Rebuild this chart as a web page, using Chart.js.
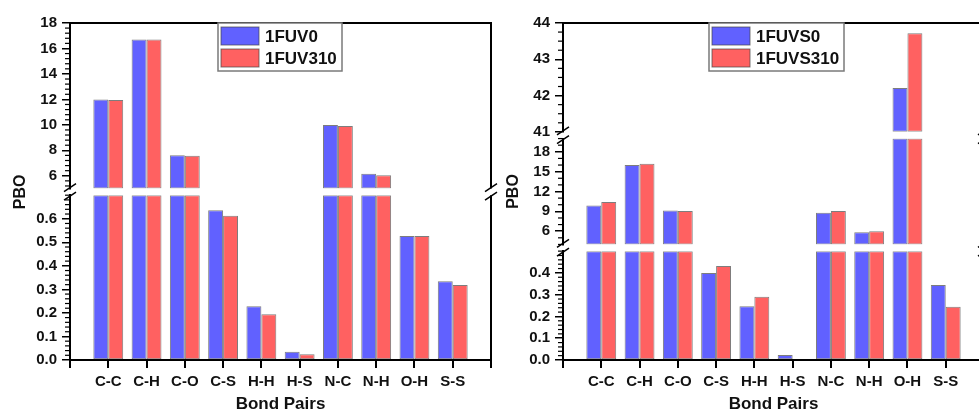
<!DOCTYPE html>
<html>
<head>
<meta charset="utf-8">
<script src="https://cdn.jsdelivr.net/npm/chart.js@4.4.1/dist/chart.umd.min.js"></script>
<style>
  html, body { margin: 0; padding: 0; background: #fff; overflow: hidden; width: 979px; height: 415px; }
  canvas { position: absolute; top: 0; }
  #left { left: 0; }
  #right { left: 493px; }
</style>
</head>
<body>
<canvas id="left" width="500" height="415"></canvas>
<canvas id="right" width="500" height="415"></canvas>
<script>
// --- data ---
const categories = ['C-C', 'C-H', 'C-O', 'C-S', 'H-H', 'H-S', 'N-C', 'N-H', 'O-H', 'S-S'];
const fuv0     = [12.0, 16.7, 7.62, 0.636, 0.228, 0.035, 9.98, 6.15, 0.527, 0.335];
const fuv310   = [11.95, 16.7, 7.57, 0.613, 0.194, 0.024, 9.9, 6.05, 0.527, 0.319];
const fuvs0    = [9.9, 16.0, 9.14, 0.400, 0.247, 0.023, 8.8, 5.85, 42.21, 0.345];
const fuvs310  = [10.4, 16.2, 9.04, 0.432, 0.290, 0, 9.04, 6.0, 43.72, 0.244];

// tick labels per axis section
const leftTicksUpper = [6, 8, 10, 12, 14, 16, 18];
const leftTicksLower = [0, 0.1, 0.2, 0.3, 0.4, 0.5, 0.6];
const rightTicksTop = [41, 42, 43, 44];
const rightTicksMid = [6, 9, 12, 15, 18];
const rightTicksLow = [0, 0.1, 0.2, 0.3, 0.4];

const BLUE = '#6161FF';
const RED = '#FF6161';
const FONT = '"Liberation Sans", Arial, sans-serif';
Chart.defaults.font.family = FONT;

// broken y axis, listed top to bottom
const leftSections = [
  { id: 'yU', min: 5, max: 18, ticks: leftTicksUpper, minor: 0.4, digits: 0, weight: 165.7 },
  { id: 'g1', gap: true, weight: 6.7, title: true },
  { id: 'yL', min: 0, max: 0.7, ticks: leftTicksLower, minor: 0.02, digits: 1, weight: 165 }
];
const rightSections = [
  { id: 'yT', min: 41, max: 44, ticks: rightTicksTop, minor: 0.25, digits: 0, weight: 109 },
  { id: 'g1', gap: true, weight: 6.7 },
  { id: 'yM', min: 4, max: 20, ticks: rightTicksMid, minor: 1, digits: 0, weight: 106, title: true },
  { id: 'g2', gap: true, weight: 6.7 },
  { id: 'yB', min: 0, max: 0.5, ticks: rightTicksLow, minor: 0.02, digits: 1, weight: 109 }
];

const titleFont = { family: FONT, size: 16, weight: 'bold' };

function buildScales(sections) {
  const scales = {
    x: {
      type: 'category',
      offset: false,
      grid: { display: true, drawOnChartArea: false, drawTicks: true, tickLength: 8, offset: false, color: '#000', lineWidth: 2 },
      border: { display: true, color: '#000', width: 2 },
      ticks: { autoSkip: false, maxRotation: 0, padding: 5, color: '#111', font: { family: FONT, size: 15, weight: 'bold' } },
      title: { display: true, text: 'Bond Pairs', color: '#111', font: { family: FONT, size: 17, weight: 'bold' }, padding: 0 },
      afterFit: s => { s.height = 55; }
    }
  };
  sections.forEach((sec, i) => {
    const base = {
      type: 'linear', position: 'left', stack: 'pbo', stackWeight: sec.weight,
      weight: sections.length - i, stacked: false,
      afterFit: s => { s.width = 70; },
      title: { display: !!sec.title, text: 'PBO', color: '#111', font: titleFont, padding: { top: 11, bottom: 0 } }
    };
    if (sec.gap) {
      scales[sec.id] = Object.assign(base, {
        min: 0, max: 1,
        grid: { display: false }, border: { display: false }, ticks: { display: false }
      });
    } else {
      scales[sec.id] = Object.assign(base, {
        min: sec.min, max: sec.max,
        afterBuildTicks: s => { s.ticks = sec.ticks.map(v => ({ value: v })); },
        grid: { display: true, drawOnChartArea: false, drawTicks: true, tickLength: 8, color: '#000', lineWidth: 1.5 },
        border: { display: true, color: '#000', width: 2 },
        ticks: {
          autoSkip: false,
          padding: 5, color: '#111', font: { family: FONT, size: 15, weight: 'bold' },
          callback: v => Number(v).toFixed(sec.digits)
        }
      });
    }
  });
  return scales;
}

// each bar is cut into the pieces that fall inside each axis section
function sectionData(values, sec) {
  return [null, ...values.map(v => v > sec.min ? [sec.min, Math.min(v, sec.max)] : null), null];
}

function buildDatasets(series, sections) {
  const out = [];
  series.forEach((s, si) => {
    sections.filter(sec => !sec.gap).forEach((sec, k) => {
      out.push({
        label: s.label,
        data: sectionData(s.values, sec),
        yAxisID: sec.id,
        stack: 's' + si,
        backgroundColor: s.color,
        borderColor: 'rgba(70,70,70,0.7)',
        borderWidth: 1,
        borderSkipped: false,
        categoryPercentage: 0.78,
        barPercentage: 1,
        inLegend: k === 0
      });
    });
  });
  return out;
}

// top/right frame, break marks and minor ticks
function framePlugin(sections) {
  return {
    id: 'frame',
    afterDraw(chart) {
      const { ctx, chartArea: a } = chart;
      ctx.save();
      ctx.strokeStyle = '#000';
      ctx.lineWidth = 2;
      ctx.beginPath(); ctx.moveTo(a.left - 1, a.top); ctx.lineTo(a.right + 1, a.top); ctx.stroke();
      sections.forEach(sec => {
        const s = chart.scales[sec.id];
        if (sec.gap) {
          ctx.lineWidth = 1.5;
          [a.left, a.right].forEach(x0 => {
            ctx.beginPath();
            ctx.moveTo(x0 - 6, s.top + 3); ctx.lineTo(x0 + 6, s.top - 5);
            ctx.moveTo(x0 - 6, s.bottom + 5); ctx.lineTo(x0 + 6, s.bottom - 3);
            ctx.stroke();
          });
          return;
        }
        ctx.lineWidth = 2;
        ctx.beginPath(); ctx.moveTo(a.right, s.top); ctx.lineTo(a.right, s.bottom); ctx.stroke();
        ctx.lineWidth = 1.2;
        const k0 = Math.ceil(sec.min / sec.minor - 1e-6);
        const k1 = Math.floor(sec.max / sec.minor + 1e-6);
        for (let k = k0; k <= k1; k++) {
          const v = k * sec.minor;
          if (sec.ticks.some(t => Math.abs(t - v) < sec.minor / 10)) continue;
          const y = s.getPixelForValue(v);
          ctx.beginPath(); ctx.moveTo(a.left - 5, y); ctx.lineTo(a.left, y); ctx.stroke();
        }
      });
      ctx.restore();
    }
  };
}

function legendPlugin(box) {
  return {
    id: 'boxLegend',
    afterDraw(chart) {
      const { ctx, chartArea: a } = chart;
      const items = chart.data.datasets.filter(d => d.inLegend);
      const x = a.left + box.x, y = a.top;
      ctx.save();
      ctx.fillStyle = '#fff';
      ctx.fillRect(x, y, box.w, 48);
      ctx.strokeStyle = '#7a7a7a';
      ctx.lineWidth = 1.5;
      ctx.strokeRect(x, y, box.w, 48);
      ctx.font = 'bold 17px ' + FONT;
      ctx.textBaseline = 'middle';
      items.forEach((d, i) => {
        const ry = y + 4 + i * 22;
        ctx.fillStyle = d.backgroundColor;
        ctx.fillRect(x + 3, ry, 38, 18);
        ctx.strokeStyle = 'rgba(70,70,70,0.7)';
        ctx.lineWidth = 1;
        ctx.strokeRect(x + 3, ry, 38, 18);
        ctx.fillStyle = '#111';
        ctx.fillText(d.label, x + 47, ry + 10);
      });
      ctx.restore();
    }
  };
}

function makeChart(canvasId, series, sections, legendBox) {
  return new Chart(document.getElementById(canvasId), {
    type: 'bar',
    data: { labels: ['', ...categories, ''], datasets: buildDatasets(series, sections) },
    options: {
      responsive: false,
      animation: false,
      devicePixelRatio: 1,
      events: [],
      layout: { padding: { top: 23, right: 9, left: 0, bottom: 0 } },
      plugins: { legend: { display: false }, tooltip: { enabled: false } },
      scales: buildScales(sections)
    },
    plugins: [framePlugin(sections), legendPlugin(legendBox)]
  });
}

makeChart('left', [
  { label: '1FUV0', values: fuv0, color: BLUE },
  { label: '1FUV310', values: fuv310, color: RED }
], leftSections, { x: 148, w: 124 });

makeChart('right', [
  { label: '1FUVS0', values: fuvs0, color: BLUE },
  { label: '1FUVS310', values: fuvs310, color: RED }
], rightSections, { x: 146, w: 135 });
</script>
</body>
</html>
